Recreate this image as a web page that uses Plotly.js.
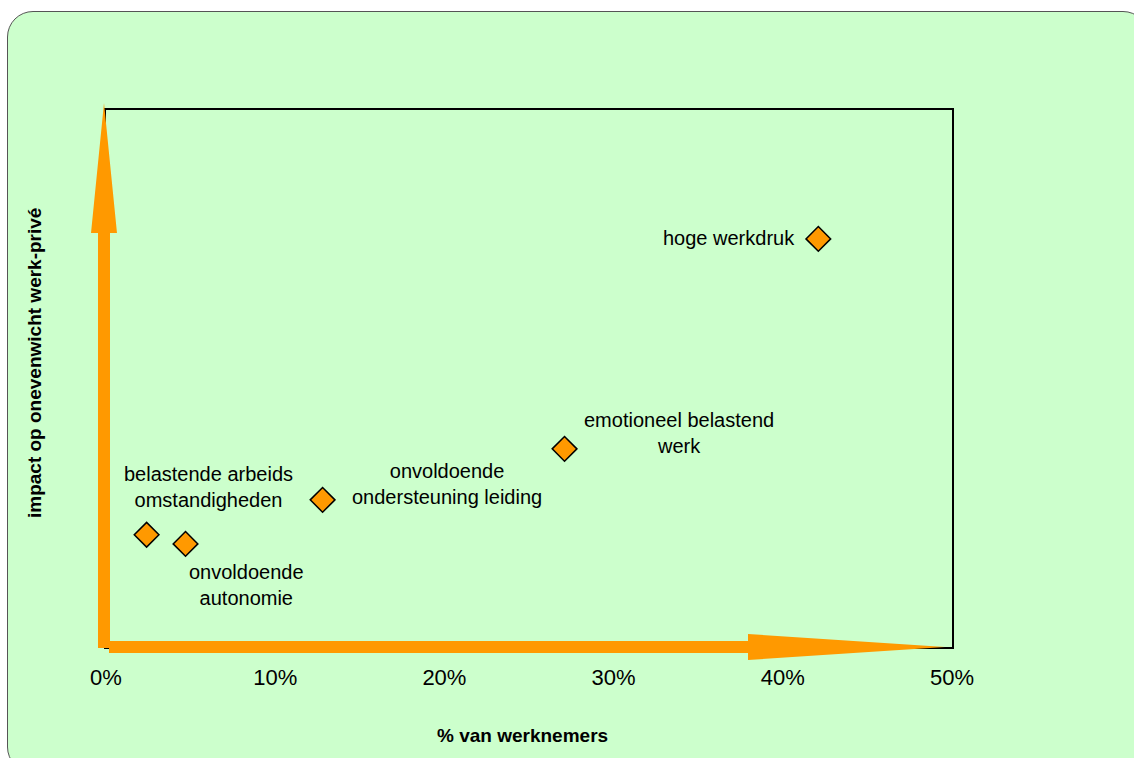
<!DOCTYPE html>
<html>
<head>
<meta charset="utf-8">
<script src="https://cdn.plot.ly/plotly-3.0.1.min.js"></script>
<style>
  html, body { margin: 0; padding: 0; background: #ffffff; overflow: hidden; width: 1134px; height: 758px; }
  #frame { position: absolute; left: 7px; top: 11px; width: 1140px; height: 760px;
           border: 1.5px solid #555; border-radius: 26px; background: #CCFFCC; overflow: hidden; }
  #chart { position: absolute; left: 0; top: 0; width: 1140px; height: 760px; }
</style>
</head>
<body>
<div id="frame"><div id="chart"></div></div>
<script>
// ---- data ----
const factors = [
  "hoge werkdruk",
  "emotioneel belastend<br>werk",
  "onvoldoende<br>ondersteuning leiding",
  "belastende arbeids<br>omstandigheden",
  "onvoldoende<br>autonomie"
];
const pctWerknemers = [42.1, 27.1, 12.8, 2.4, 4.7];
const impactScore = [76.0, 36.9, 27.4, 20.9, 19.2];
const xTickVals = [0, 10, 20, 30, 40, 50];
const xTickText = ["0%", "10%", "20%", "30%", "40%", "50%"];
const xTitle = "% van werknemers";
const yTitle = "impact op onevenwicht werk-privé";

// ---- layout helpers (pixel geometry of the plot area inside the chart div) ----
const L = 98, T = 98, W = 846, H = 537, FW = 1140, FH = 760;
const ox = 8, oy = 12; // chart div origin in page pixels
const px = x => (x - ox - L) / W;
const py = y => (T + H - (y - oy)) / H;
function path(points) {
  return points.map((p, i) => (i ? "L" : "M") + px(p[0]).toFixed(5) + "," + py(p[1]).toFixed(5)).join(" ") + " Z";
}
const orange = "#FF9900";
const vArrow = path([[98,648],[98,233],[91,233],[104,103],[117,233],[110,233],[110,648]]);
const hArrow = path([[109,641],[748,641],[748,634],[945,647],[748,660],[748,653],[109,653]]);

// label offsets (pixels) relative to each point
const labelOffsets = [
  {xanchor: "right", xshift: -21, yshift: 1},
  {xanchor: "center", xshift: 114, yshift: 16},
  {xanchor: "center", xshift: 124, yshift: 16},
  {xanchor: "center", xshift: 62, yshift: 48},
  {xanchor: "center", xshift: 61, yshift: -41}
];
const fontFam = "Liberation Sans, Arial, sans-serif";

const annotations = factors.map((t, i) => ({
  x: pctWerknemers[i], y: impactScore[i], xref: "x", yref: "y",
  text: t, showarrow: false, align: "center", yanchor: "middle",
  xanchor: labelOffsets[i].xanchor, xshift: labelOffsets[i].xshift, yshift: labelOffsets[i].yshift,
  font: {family: fontFam, size: 20, color: "#000"}
}));
annotations.push({
  x: px(522), y: py(735), xref: "paper", yref: "paper", showarrow: false,
  text: "<b>" + xTitle + "</b>", xanchor: "center", yanchor: "middle",
  font: {family: fontFam, size: 19, color: "#000"}
});
annotations.push({
  x: px(34), y: py(363), xref: "paper", yref: "paper", showarrow: false, textangle: -90,
  text: "<b>" + yTitle + "</b>", xanchor: "center", yanchor: "middle",
  font: {family: fontFam, size: 19, color: "#000"}
});

const trace = {
  type: "scatter", mode: "markers",
  x: pctWerknemers, y: impactScore, text: factors, hoverinfo: "text",
  marker: {symbol: "diamond", size: 19, color: orange, line: {color: "#000", width: 1.5}}
};

const layout = {
  width: FW, height: FH,
  margin: {l: L, t: T, r: FW - L - W, b: FH - T - H, pad: 0},
  paper_bgcolor: "rgba(0,0,0,0)", plot_bgcolor: "rgba(0,0,0,0)",
  showlegend: false,
  xaxis: {
    range: [0, 50], tickvals: xTickVals, ticktext: xTickText,
    showgrid: false, zeroline: false,
    showline: true, mirror: true, linecolor: "#000", linewidth: 2,
    ticks: "outside", ticklen: 10, tickcolor: "rgba(0,0,0,0)",
    tickfont: {family: fontFam, size: 22, color: "#000"}
  },
  yaxis: {
    range: [0, 100], showticklabels: false, ticks: "",
    showgrid: false, zeroline: false,
    showline: true, mirror: true, linecolor: "#000", linewidth: 2
  },
  shapes: [
    {type: "path", xref: "paper", yref: "paper", path: vArrow, fillcolor: orange, line: {width: 0}, layer: "above"},
    {type: "path", xref: "paper", yref: "paper", path: hArrow, fillcolor: orange, line: {width: 0}, layer: "above"}
  ],
  annotations: annotations
};

Plotly.newPlot("chart", [trace], layout, {displayModeBar: false, staticPlot: true});
</script>
</body>
</html>
